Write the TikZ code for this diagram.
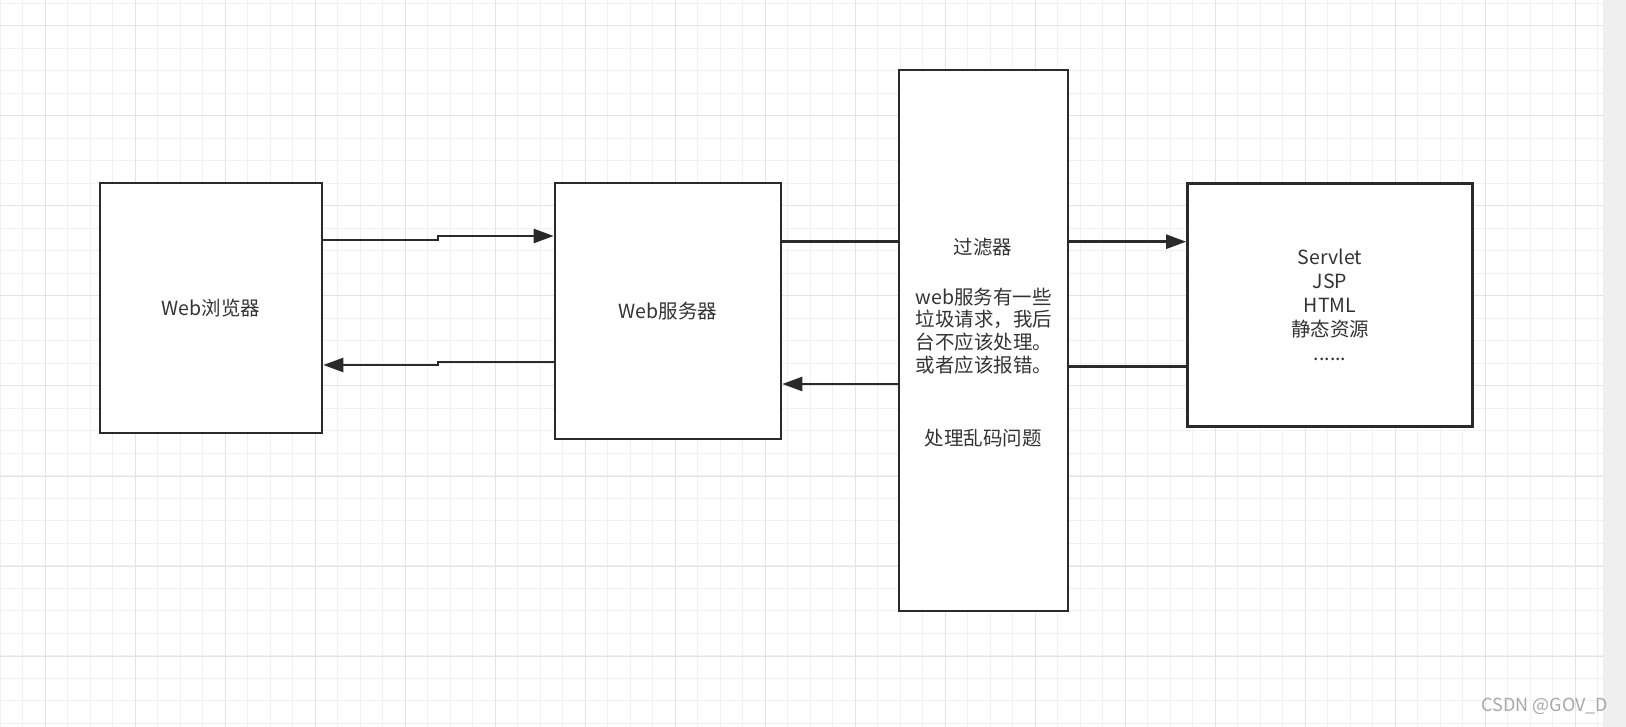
\documentclass[tikz,border=0pt]{standalone}
\usepackage{fontspec}
\setmainfont{Noto Sans CJK SC}
\usetikzlibrary{arrows.meta}
\definecolor{gridminor}{HTML}{F1F1F3}
\definecolor{gridmajor}{HTML}{E3E3E6}
\definecolor{txtgray}{HTML}{333333}
\definecolor{linegray}{HTML}{2A2A2A}
\definecolor{stripgray}{HTML}{EFEFEF}
\definecolor{wmgray}{HTML}{A8A8A8}

\begin{document}
\begin{tikzpicture}[x=1pt,y=-1pt,
    box/.style={draw=linegray,line width=2.6pt,fill=white,inner sep=0pt,
      text=txtgray,font=\fontsize{19.5}{24}\selectfont,align=center},
    conn/.style={draw=linegray,line width=2.4pt},
    arr/.style={conn,-{Triangle[length=20pt,width=14pt]}},
    txt/.style={text=txtgray,font=\fontsize{19.5}{22.8}\selectfont,align=center,inner sep=0pt}]
    \useasboundingbox (0,0) rectangle (1626,727);
    % background and grid
    \fill[white] (0,0) rectangle (1626,727);
    \foreach \gx in {0,22.5,...,1602} \draw[gridminor,line width=1pt] (\gx,0) -- (\gx,727);
    \foreach \gy in {3.3,25.8,...,727} \draw[gridminor,line width=1pt] (0,\gy) -- (1603,\gy);
    \foreach \gx in {45,135,...,1600} \draw[gridmajor,line width=1pt] (\gx,0) -- (\gx,727);
    \foreach \gy in {26,116,...,727} \draw[gridmajor,line width=1pt] (0,\gy) -- (1603,\gy);
    \fill[stripgray] (1603,0) rectangle (1626,727);
    % boxes
    \node[box,minimum width=222pt,minimum height=250pt] (browser) at (211,308) {Web浏览器};
    \node[box,minimum width=226pt,minimum height=256pt] (server) at (668,311) {Web服务器};
    \node[box,minimum width=169pt,minimum height=541pt] (filter) at (983.5,340.5) {};
    \node[box,minimum width=285pt,minimum height=243pt] (servlet) at (1330,305)
      {Servlet\\JSP\\HTML\\静态资源\\......};
    % filter texts
    \node[txt] (filtertitle) at (983,247) {过滤器};
    \node[txt,align=left] (filterbody) at (984,331)
      {web服务有一些\\垃圾请求，我后\\台不应该处理。\\或者应该报错。};
    \node[txt] (filterfoot) at (983,438) {处理乱码问题};
    % connectors
    \draw[arr] (browser.east |- 0,240) -| (438,236) -- (server.west |- 0,236);
    \draw[arr] (server.west |- 0,362) -| (438,365) -- (browser.east |- 0,365);
    \draw[conn] (server.east |- 0,241.7) -- (filter.west |- 0,241.7);
    \draw[arr] (filter.west |- 0,384) -- (server.east |- 0,384);
    \draw[arr] (filter.east |- 0,241.7) -- (servlet.west |- 0,241.7);
    \draw[conn] (servlet.west |- 0,366.7) -- (filter.east |- 0,366.7);
    % watermark
    \node[text=wmgray,font=\fontsize{18}{18}\selectfont,inner sep=0pt] (watermark) at (1545,706) {CSDN @GOV\_D};
\end{tikzpicture}
\end{document}
